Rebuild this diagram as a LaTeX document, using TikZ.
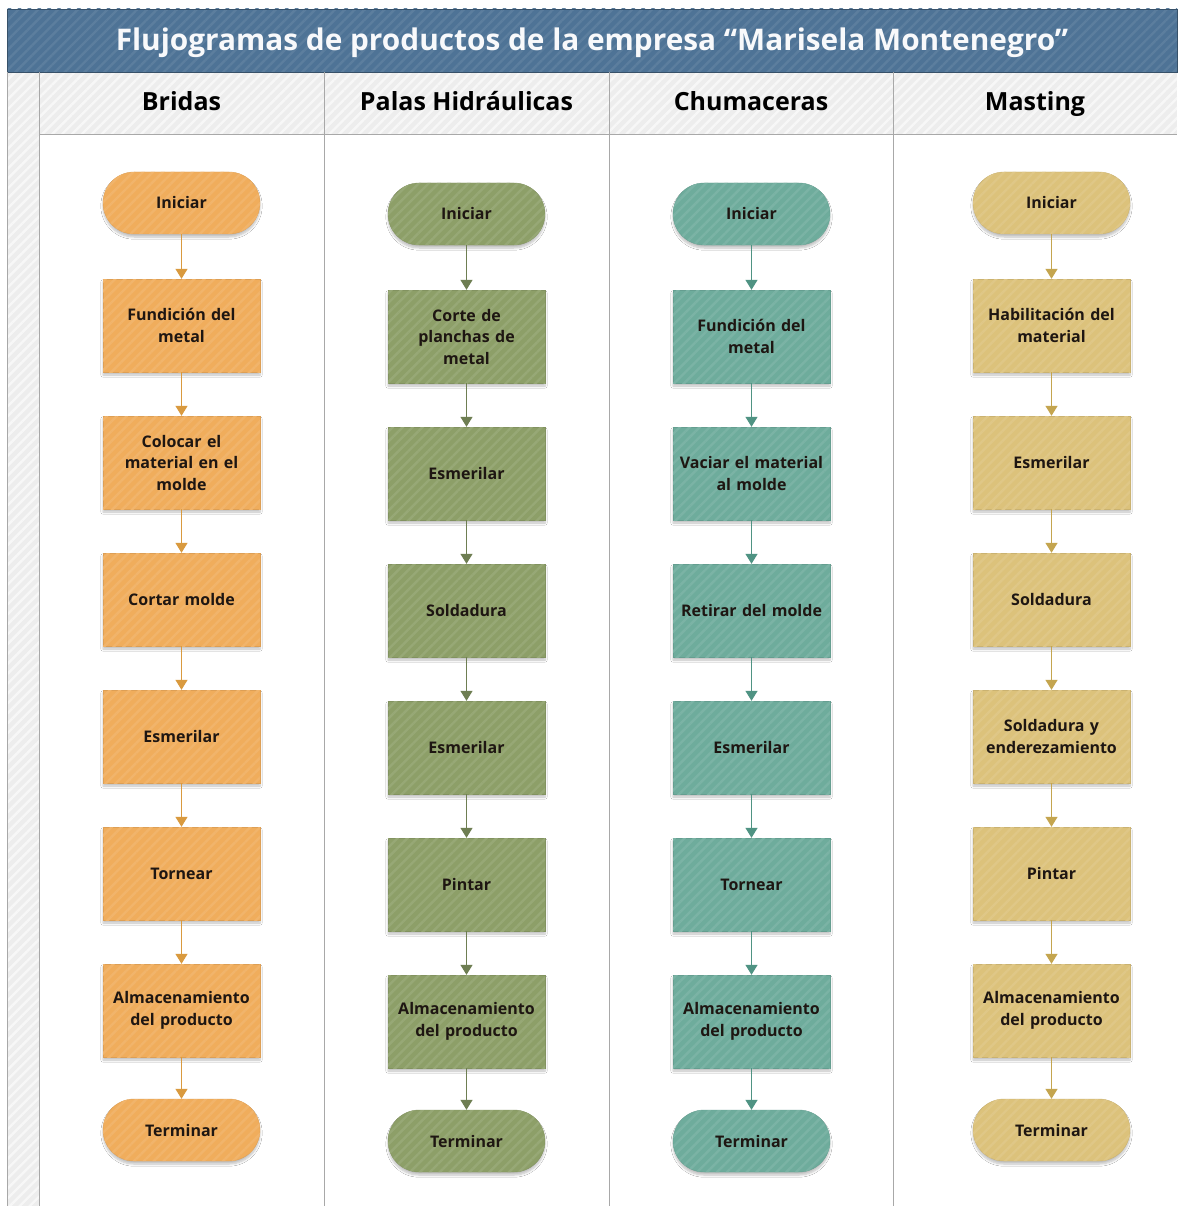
\documentclass[tikz,border=0pt]{standalone}
\usepackage{fontspec}
\setmainfont{Open Sans}
\usetikzlibrary{arrows.meta,patterns.meta,shadows.blur}

\definecolor{titlebg}{HTML}{4E7396}
\definecolor{headbg}{HTML}{EDEDED}
\definecolor{gridline}{HTML}{A8A8A8}
\definecolor{cOrange}{HTML}{F0AD5C}
\definecolor{cGreen}{HTML}{8D9F68}
\definecolor{cTeal}{HTML}{6EAC9C}
\definecolor{cGold}{HTML}{DCC27B}
\definecolor{aOrange}{HTML}{D99A3F}
\definecolor{aGreen}{HTML}{6E7E52}
\definecolor{aTeal}{HTML}{4F9383}
\definecolor{aGold}{HTML}{C4A54F}
\definecolor{txt}{HTML}{1E1612}

\tikzset{
  stripes/.style={postaction={pattern={Lines[angle=45,distance=7pt,line width=2.4pt]},pattern color=#1}},
  shape base/.style={fill=#1, draw=#1!92!black, line width=0.4pt,
    blur shadow={shadow blur steps=6, shadow xshift=0pt, shadow yshift=-3pt, shadow opacity=25},
    stripes=#1!91!white, text=txt, align=center, inner sep=2pt,
    font=\fontsize{16}{21.5}\selectfont\bfseries},
  procbox/.style={shape base=#1, rectangle, minimum width=157pt, minimum height=93pt, text width=152pt},
  termbox/.style={shape base=#1, rectangle, rounded corners=31pt, minimum width=157pt, minimum height=62pt, text width=152pt},
  flow/.style={draw=#1, line width=1.3pt, -{Triangle[width=12pt,length=10pt,fill=#1]}},
  header/.style={font=\fontsize{25}{28}\selectfont\bfseries, text=black, text height=19pt, text depth=6pt},
}

\begin{document}
\begin{tikzpicture}[x=1pt,y=-1pt]
\useasboundingbox (0,0) rectangle (1177,1206);
\fill[white] (0,0) rectangle (1177,1206);

% left strip and header row
\fill[headbg] (7,72) rectangle (39,1206);
\path[stripes=headbg!45!white] (7,72) rectangle (39,1206);
\fill[headbg] (39,72) rectangle (1177,135);
\path[stripes=headbg!45!white] (39,72) rectangle (1177,135);

% title bar
\fill[titlebg] (7,9) rectangle (1177,72);
\path[stripes=titlebg!92!white] (7,9) rectangle (1177,72);
\draw[titlebg!70!black, line width=0.6pt] (7,9) rectangle (1177,72);
\node[font=\fontsize{29.8}{32}\selectfont\bfseries, text=white!96!titlebg] (title) at (592,42.5)
  {Flujogramas de productos de la empresa “Marisela Montenegro”};

% lane grid
\draw[gridline, line width=1pt] (7,72) -- (7,1206);
\foreach \x in {39,324,609,893} \draw[gridline, line width=1pt] (\x,72) -- (\x,1206);
\draw[gridline, line width=1pt] (39,135) -- (1177,135);

% lane headers
\node[header] (hB) at (181.5,104) {Bridas};
\node[header] (hP) at (466.5,104) {Palas Hidráulicas};
\node[header] (hC) at (751,104) {Chumaceras};
\node[header] (hM) at (1035,104) {Masting};

% Bridas
\node[termbox=cOrange] (b0) at (181.5,203) {Iniciar};
\node[procbox=cOrange] (b1) at (181.5,325.5) {Fundición del\\metal};
\node[procbox=cOrange] (b2) at (181.5,462.5) {Colocar el\\material en el\\molde};
\node[procbox=cOrange] (b3) at (181.5,599.5) {Cortar molde};
\node[procbox=cOrange] (b4) at (181.5,736.5) {Esmerilar};
\node[procbox=cOrange] (b5) at (181.5,873.5) {Tornear};
\node[procbox=cOrange] (b6) at (181.5,1010.5) {Almacenamiento\\del producto};
\node[termbox=cOrange] (b7) at (181.5,1130) {Terminar};

% Palas Hidráulicas
\node[termbox=cGreen] (p0) at (466.5,214) {Iniciar};
\node[procbox=cGreen] (p1) at (466.5,336.5) {Corte de\\planchas de\\metal};
\node[procbox=cGreen] (p2) at (466.5,473.5) {Esmerilar};
\node[procbox=cGreen] (p3) at (466.5,610.5) {Soldadura};
\node[procbox=cGreen] (p4) at (466.5,747.5) {Esmerilar};
\node[procbox=cGreen] (p5) at (466.5,884.5) {Pintar};
\node[procbox=cGreen] (p6) at (466.5,1021.5) {Almacenamiento\\del producto};
\node[termbox=cGreen] (p7) at (466.5,1141) {Terminar};

% Chumaceras
\node[termbox=cTeal] (c0) at (751.5,214) {Iniciar};
\node[procbox=cTeal] (c1) at (751.5,336.5) {Fundición del\\metal};
\node[procbox=cTeal] (c2) at (751.5,473.5) {Vaciar el material\\al molde};
\node[procbox=cTeal] (c3) at (751.5,610.5) {Retirar del molde};
\node[procbox=cTeal] (c4) at (751.5,747.5) {Esmerilar};
\node[procbox=cTeal] (c5) at (751.5,884.5) {Tornear};
\node[procbox=cTeal] (c6) at (751.5,1021.5) {Almacenamiento\\del producto};
\node[termbox=cTeal] (c7) at (751.5,1141) {Terminar};

% Masting
\node[termbox=cGold] (m0) at (1051.5,203) {Iniciar};
\node[procbox=cGold] (m1) at (1051.5,325.5) {Habilitación del\\material};
\node[procbox=cGold] (m2) at (1051.5,462.5) {Esmerilar};
\node[procbox=cGold] (m3) at (1051.5,599.5) {Soldadura};
\node[procbox=cGold] (m4) at (1051.5,736.5) {Soldadura y\\enderezamiento};
\node[procbox=cGold] (m5) at (1051.5,873.5) {Pintar};
\node[procbox=cGold] (m6) at (1051.5,1010.5) {Almacenamiento\\del producto};
\node[termbox=cGold] (m7) at (1051.5,1130) {Terminar};

% connectors
\foreach \a/\b in {0/1,1/2,2/3,3/4,4/5,5/6,6/7}{
  \draw[flow=aOrange] (b\a) -- (b\b);
  \draw[flow=aGreen] (p\a) -- (p\b);
  \draw[flow=aTeal] (c\a) -- (c\b);
  \draw[flow=aGold] (m\a) -- (m\b);
}
\end{tikzpicture}
\end{document}
